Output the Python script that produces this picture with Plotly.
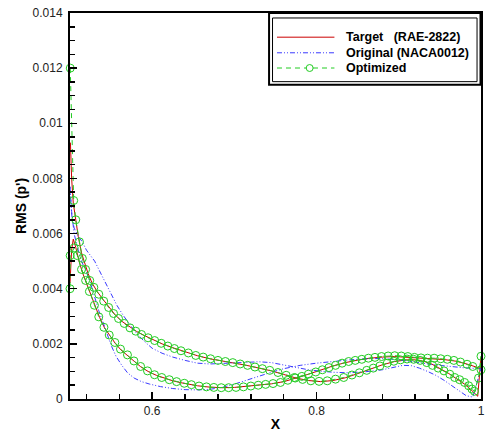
import plotly.graph_objects as go

# ---------------- data ----------------
# Target (RAE-2822): branch A (higher on the left) and branch B (lower on the left)
target_a_x = [0.5005, 0.502, 0.504, 0.507, 0.510, 0.514, 0.518, 0.522, 0.527, 0.533, 0.540, 0.547,
              0.555, 0.563, 0.572, 0.581, 0.590, 0.600, 0.612, 0.625, 0.640, 0.655, 0.670, 0.685,
              0.700, 0.715, 0.730, 0.745, 0.760, 0.775, 0.790, 0.805, 0.820, 0.835, 0.850, 0.865,
              0.880, 0.895, 0.910, 0.920, 0.930, 0.940, 0.950, 0.960, 0.970, 0.980, 0.987, 0.992,
              0.996, 1.0]
target_a_y = [0.0093, 0.0080, 0.0071, 0.0064, 0.0059, 0.0053, 0.0049, 0.00455, 0.0042, 0.0039, 0.00362, 0.00334,
              0.00305, 0.00282, 0.00262, 0.00245, 0.00231, 0.00216, 0.0020, 0.00186, 0.00171, 0.00157, 0.00146, 0.00137,
              0.0013, 0.00122, 0.00112, 0.00102, 0.00089, 0.00076, 0.00067, 0.00063, 0.00067, 0.00077, 0.00092, 0.00108,
              0.00124, 0.00136, 0.00142, 0.00142, 0.00137, 0.00127, 0.00112, 0.00094, 0.00074, 0.00054, 0.00036, 0.0002,
              0.0001, 0.0015]
target_b_x = [0.500, 0.502, 0.504, 0.507, 0.511, 0.515, 0.520, 0.525, 0.530, 0.536, 0.542, 0.548,
              0.555, 0.562, 0.570, 0.578, 0.586, 0.595, 0.605, 0.615, 0.625, 0.635, 0.645, 0.655,
              0.670, 0.685, 0.700, 0.715, 0.730, 0.745, 0.760, 0.775, 0.790, 0.805, 0.820, 0.835,
              0.850, 0.865, 0.880, 0.895, 0.910, 0.925, 0.940, 0.955, 0.970, 0.985, 1.0]
target_b_y = [0.0042, 0.0054, 0.0058, 0.0055, 0.0050, 0.0046, 0.0042, 0.0038, 0.0034, 0.00296, 0.00258, 0.0023,
              0.00202, 0.00178, 0.00158, 0.00137, 0.00117, 0.0010, 0.00086, 0.00075, 0.00066, 0.00059, 0.00053, 0.00048,
              0.00043, 0.00041, 0.00042, 0.00045, 0.0005, 0.00055, 0.00063, 0.00076, 0.0009, 0.00104, 0.0012, 0.00132,
              0.00141, 0.00148, 0.00152, 0.00154, 0.00152, 0.00148, 0.00146, 0.00143, 0.00137, 0.00125, 0.0011]

# Original (NACA0012)
orig_a_x = [0.500, 0.502, 0.505, 0.510, 0.515, 0.520, 0.525, 0.530, 0.535, 0.540, 0.545, 0.550,
            0.557, 0.565, 0.573, 0.580, 0.590, 0.600, 0.612, 0.625, 0.640, 0.655, 0.670, 0.685,
            0.700, 0.715, 0.730, 0.745, 0.760, 0.775, 0.790, 0.805, 0.820, 0.840, 0.860, 0.880,
            0.895, 0.905, 0.915, 0.925, 0.935, 0.945, 0.955, 0.965, 0.975, 0.982, 0.990, 1.0]
orig_a_y = [0.0077, 0.0067, 0.0062, 0.0059, 0.0057, 0.0054, 0.0052, 0.0050, 0.0047, 0.0044, 0.0041, 0.0038,
            0.0034, 0.00302, 0.0027, 0.00242, 0.0021, 0.00184, 0.00166, 0.00152, 0.0014, 0.0013, 0.00127, 0.00129,
            0.00131, 0.00133, 0.00135, 0.00132, 0.00124, 0.00114, 0.00106, 0.00101, 0.00097, 0.00095, 0.00099, 0.00106,
            0.00116, 0.00122, 0.00121, 0.00112, 0.001, 0.00086, 0.00068, 0.00048, 0.00026, 0.00012, 0.00007, 0.0011]
orig_b_x = [0.500, 0.502, 0.505, 0.509, 0.514, 0.520, 0.525, 0.530, 0.535, 0.540, 0.545, 0.550,
            0.556, 0.563, 0.570, 0.578, 0.587, 0.597, 0.610, 0.625, 0.640, 0.655, 0.670, 0.685,
            0.700, 0.715, 0.730, 0.745, 0.760, 0.780, 0.800, 0.820, 0.840, 0.860, 0.880, 0.900,
            0.920, 0.940, 0.960, 0.980, 1.0]
orig_b_y = [0.0077, 0.0068, 0.0060, 0.0055, 0.0050, 0.0046, 0.0042, 0.0037, 0.0032, 0.0028, 0.0024, 0.00195,
            0.00155, 0.00122, 0.00095, 0.00076, 0.00063, 0.00054, 0.00045, 0.00038, 0.00034, 0.00033, 0.00035, 0.00042,
            0.00054, 0.00068, 0.00082, 0.00097, 0.0011, 0.00122, 0.0013, 0.00137, 0.00142, 0.00146, 0.00147, 0.00142,
            0.00134, 0.00125, 0.00119, 0.00113, 0.0011]

# Optimized (one point per plotted circle)
opt_a_x = [0.5003, 0.5045, 0.507, 0.5115, 0.515, 0.519, 0.524, 0.529,
           0.535, 0.541, 0.547, 0.553, 0.559, 0.566, 0.573, 0.580, 0.587, 0.595, 0.603, 0.611,
           0.619, 0.627, 0.635, 0.644, 0.653, 0.662, 0.671, 0.680, 0.689, 0.698, 0.707, 0.716,
           0.725, 0.734, 0.743, 0.753, 0.763, 0.773, 0.783, 0.793, 0.803, 0.813, 0.823, 0.833,
           0.843, 0.852, 0.861, 0.869, 0.877, 0.886, 0.894, 0.902, 0.910, 0.918, 0.926, 0.934,
           0.941, 0.948, 0.955, 0.962, 0.968, 0.974, 0.980, 0.985, 0.989, 0.992, 0.997, 1.0]
opt_a_y = [0.0120, 0.0072, 0.0065, 0.0057, 0.0051, 0.0047, 0.0043, 0.00405,
           0.0038, 0.00355, 0.00332, 0.0031, 0.00292, 0.00274, 0.00258, 0.00246, 0.00234, 0.00222, 0.00212, 0.00202,
           0.00192, 0.00183, 0.00175, 0.00167, 0.00158, 0.00152, 0.00146, 0.0014, 0.00136, 0.00132, 0.00127, 0.00122,
           0.00116, 0.0011, 0.00104, 0.00096, 0.00086, 0.00078, 0.00071, 0.00066, 0.00064, 0.00066, 0.00072, 0.00078,
           0.00087, 0.00095, 0.00104, 0.00112, 0.0012, 0.0013, 0.00137, 0.00142, 0.00145, 0.00144, 0.0014, 0.00132,
           0.00122, 0.00112, 0.00102, 0.0009, 0.00078, 0.0007, 0.0006, 0.00048, 0.00036, 0.00028, 0.00076, 0.00155]
opt_b_x = [0.500, 0.5002, 0.505, 0.509, 0.514, 0.519, 0.5236, 0.5297, 0.535, 0.5413, 0.5477, 0.5546,
           0.5614, 0.5699, 0.5778, 0.5859, 0.5943, 0.6028, 0.6116, 0.6208, 0.6297, 0.639, 0.6477, 0.657,
           0.666, 0.675, 0.684, 0.693, 0.702, 0.711, 0.720, 0.729, 0.738, 0.747, 0.756, 0.765,
           0.774, 0.782, 0.790, 0.799, 0.807, 0.815, 0.823, 0.831, 0.839, 0.847, 0.855, 0.863,
           0.871, 0.879, 0.887, 0.895, 0.903, 0.911, 0.919, 0.927, 0.935, 0.943, 0.951, 0.959,
           0.967, 0.975, 0.983, 0.990, 1.0]
opt_b_y = [0.0040, 0.0052, 0.00548, 0.0052, 0.0047, 0.0043, 0.0039, 0.0034, 0.00298, 0.0026, 0.00232, 0.00205,
           0.00181, 0.0016, 0.00138, 0.00118, 0.00102, 0.00088, 0.00078, 0.0007, 0.00063, 0.00057, 0.00052, 0.00047,
           0.00044, 0.00042, 0.00041, 0.00041, 0.00042, 0.00044, 0.00047, 0.0005, 0.00053, 0.00056, 0.0006, 0.00068,
           0.00076, 0.00082, 0.0009, 0.00098, 0.00106, 0.00114, 0.00122, 0.0013, 0.00136, 0.0014, 0.00144, 0.00148,
           0.00151, 0.00154, 0.00156, 0.00157, 0.00156, 0.00154, 0.00151, 0.00149, 0.00148, 0.00148, 0.00146, 0.00144,
           0.0014, 0.00134, 0.00126, 0.00118, 0.00106]

x_tick_vals = [0.6, 0.8, 1.0]
x_tick_text = ["0.6", "0.8", "1"]
y_tick_vals = [0, 0.002, 0.004, 0.006, 0.008, 0.010, 0.012, 0.014]
y_tick_text = ["0", "0.002", "0.004", "0.006", "0.008", "0.01", "0.012", "0.014"]

series_names = ["Target\u00a0\u00a0\u00a0(RAE-2822)", "Original (NACA0012)", "Optimized"]
series_colors = ["#cc0000", "#3a3aff", "#22cc22"]
series_dashes = ["solid", "5px,2px,1px,2px,1px,2px", "5px,4px"]

# ---------------- figure ----------------
FONT = "Arial, Liberation Sans, sans-serif"

# plot area in page pixels
PL, PR, PT, PB = 70, 485, 13, 401
W, H = 488, 433


def xp(px):   # page pixel -> paper x
    return (px - PL) / (PR - PL)


def yp(py):   # page pixel -> paper y
    return 1 - (py - PT) / (PB - PT)


def loop(ax, ay, bx, by):
    # run along branch A to the trailing edge and back along branch B
    return ax + bx[::-1], ay + by[::-1]


fig = go.Figure()

tx, ty = loop(target_a_x, target_a_y, target_b_x, target_b_y)
fig.add_trace(go.Scatter(x=tx, y=ty, mode="lines", name=series_names[0], showlegend=False,
                         line=dict(color=series_colors[0], width=1)))

ox, oy = loop(orig_a_x, orig_a_y, orig_b_x, orig_b_y)
fig.add_trace(go.Scatter(x=ox, y=oy, mode="lines", name=series_names[1], showlegend=False,
                         line=dict(color=series_colors[1], width=1, dash=series_dashes[1])))

px_, py_ = loop(opt_a_x, opt_a_y, opt_b_x, opt_b_y)
fig.add_trace(go.Scatter(x=px_, y=py_, mode="lines+markers", name=series_names[2], showlegend=False,
                         cliponaxis=False,
                         line=dict(color=series_colors[2], width=1, dash=series_dashes[2]),
                         marker=dict(symbol="circle-open", size=8, color=series_colors[2],
                                     line=dict(width=1, color=series_colors[2]))))

axis_common = dict(showgrid=False, zeroline=False, showline=True, linecolor="black",
                   linewidth=2, mirror=True, ticks="inside", tickcolor="black",
                   tickwidth=1.5, ticklen=7, ticklabeloverflow="allow",
                   tickfont=dict(family=FONT, size=12, color="#222"))

fig.update_xaxes(range=[0.5, 1.0], tickvals=x_tick_vals, ticktext=x_tick_text,
                 minor=dict(dtick=0.04, tick0=0.0, ticks="inside", ticklen=5,
                            tickwidth=1.5, tickcolor="black"),
                 title=dict(text="<b>X</b>", font=dict(family=FONT, size=14, color="black"),
                            standoff=2),
                 **axis_common)
fig.update_yaxes(range=[0, 0.014], tickvals=y_tick_vals, ticktext=y_tick_text,
                 minor=dict(dtick=0.0005, tick0=0.0, ticks="inside", ticklen=5,
                            tickwidth=1.5, tickcolor="black"),
                 ticklabelstandoff=3,
                 title=dict(text="<b>RMS (p')</b>", font=dict(family=FONT, size=14, color="black"),
                            standoff=3),
                 **axis_common)

# ---- legend box (double frame) drawn in paper space ----
shapes = [
    dict(type="rect", xref="paper", yref="paper",
         x0=xp(271), x1=xp(484.5), y0=yp(85), y1=yp(13),
         line=dict(color="black", width=2), fillcolor="white", layer="above"),
    dict(type="rect", xref="paper", yref="paper",
         x0=xp(274.5), x1=xp(481), y0=yp(82), y1=yp(18),
         line=dict(color="black", width=1), layer="above"),
]
annotations = []
row_y = [37.3, 53, 68.3]
for name, color, dash, ry in zip(series_names, series_colors, series_dashes, row_y):
    shapes.append(dict(type="line", xref="paper", yref="paper",
                       x0=xp(279), x1=xp(337), y0=yp(ry), y1=yp(ry),
                       line=dict(color=color, width=1, dash=dash), layer="above"))
    annotations.append(dict(xref="paper", yref="paper", x=xp(347), y=yp(ry),
                            xanchor="left", yanchor="middle", showarrow=False,
                            text="<b>" + name + "</b>",
                            font=dict(family=FONT, size=12.5, color="black")))
# circle symbol on the Optimized sample
shapes.append(dict(type="circle", xref="paper", yref="paper",
                   x0=xp(308.5), x1=xp(315.5), y0=yp(row_y[2] + 3.5), y1=yp(row_y[2] - 3.5),
                   line=dict(color=series_colors[2], width=1), fillcolor="white", layer="above"))

fig.update_layout(
    width=W, height=H,
    margin=dict(l=PL, r=W - PR, t=PT, b=H - PB),
    paper_bgcolor="white", plot_bgcolor="white",
    showlegend=False, hovermode=False,
    shapes=shapes,
    annotations=annotations,
)

# remove the default 8px page margin so the 488x433 figure fills the window exactly
fig.write_html("out.html",
               config={"displayModeBar": False, "staticPlot": True},
               post_script="document.body.style.margin='0px';document.body.style.overflow='hidden';")
